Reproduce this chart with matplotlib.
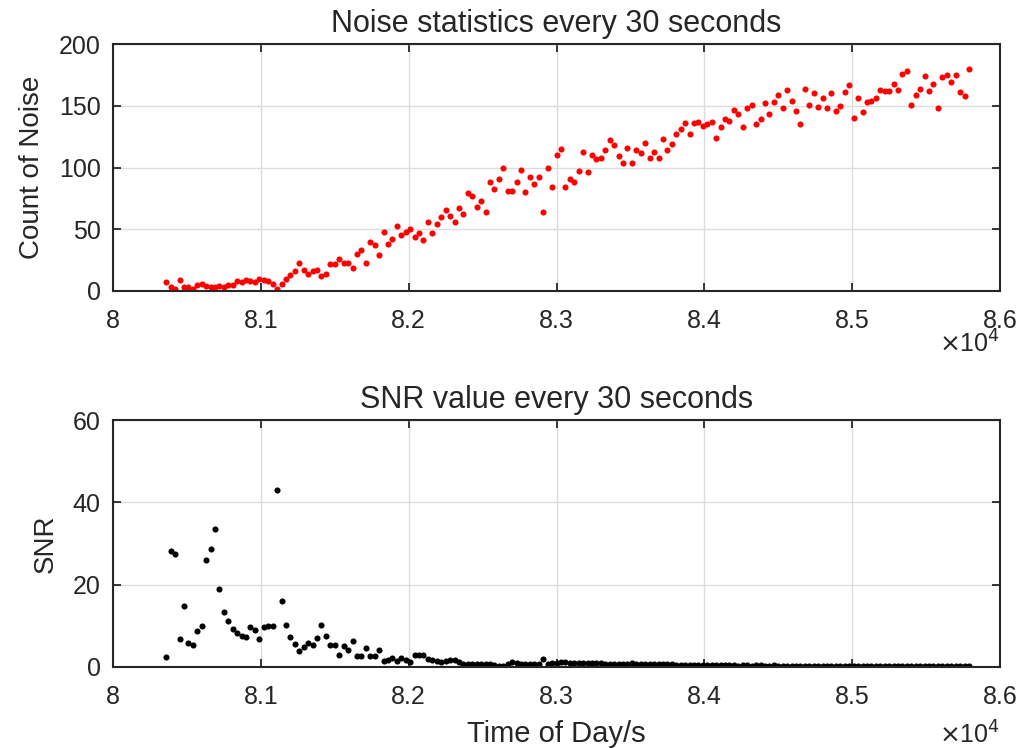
import matplotlib
matplotlib.use("Agg")
import matplotlib.pyplot as plt
from matplotlib.ticker import FuncFormatter
import numpy as np

plt.rcParams['font.family'] = ['Liberation Sans', 'DejaVu Sans']

# sampling: one value every 30 seconds
t_start = 80360
t_step = 30

noise = [7, 3, 2, 9, 3, 3, 2, 5, 6, 4, 3, 3, 4, 3, 5, 5, 8, 7, 9, 8,
         7, 10, 9, 8, 6, 2, 6, 10, 13, 16, 23, 17, 14, 16, 17, 12, 14, 22, 22, 26,
         23, 23, 19, 30, 33, 23, 40, 37, 29, 48, 38, 42, 53, 45, 48,
         50, 44, 47, 41, 56, 47, 54, 60, 66, 61, 56, 67, 62, 79, 77, 68, 73, 64, 88, 83,
         91, 100, 81, 81, 88, 98, 80, 92, 87, 92, 64, 100, 84, 110, 115, 84, 91, 88, 97, 113,
         96, 110, 107, 108, 114, 122, 118, 109, 104, 116, 104, 114, 112, 120, 108, 113, 108, 123, 114, 119,
         127, 131, 136, 127, 136, 137,
         134, 135, 137, 124, 133, 139, 138, 147, 143, 133, 148, 151, 135, 139, 152, 143, 153, 159, 148, 163,
         154, 146, 135, 164, 151, 160, 149, 156, 148, 160, 146, 150, 161, 167, 140, 156, 145, 153, 154, 156,
         163, 162, 162, 168, 163, 176, 178, 151, 159, 164, 174, 162, 168, 148, 173, 175, 169, 175, 161, 158,
         180]

snr = [2.5, 28.3, 27.5, 6.8, 14.9, 5.9, 5.4, 8.7, 10.0, 26.0, 28.6, 33.6, 19.0, 13.3, 11.1, 9.3, 8.2, 7.5, 7.3, 9.7,
       8.9, 6.7, 9.6, 10.0, 9.9, 43.0, 16.0, 10.2, 7.3, 5.6, 3.8, 4.8, 5.9, 5.4, 7.1, 10.2, 7.5, 5.3, 5.4, 3.0,
       5.1, 4.2, 6.3, 2.7, 2.7, 4.6, 2.7, 2.7, 4.2, 1.5, 1.6, 2.3, 1.5, 2.2, 1.8,
       1.2, 2.8, 2.8, 3.0, 1.9, 1.6, 1.4, 1.1, 1.5, 1.6, 1.8, 1.1, 0.65, 0.65, 0.65, 0.8, 0.8, 0.8, 0.65, 0.6,
       0.3, 0.3, 0.8, 1.1, 1.0, 0.65, 0.65, 0.65, 0.65, 0.65, 1.9, 0.8,
       1.0, 1.0, 1.1, 1.1, 1.05, 1.05, 1.0, 1.0, 1.05, 1.0, 1.0, 1.0, 0.8, 0.65, 0.65, 0.65, 0.8, 0.8, 0.9, 0.8,
       0.8, 0.8, 0.8, 0.8, 0.8, 0.8, 0.7, 0.65, 0.5, 0.5, 0.5, 0.5, 0.5, 0.5,
       0.45, 0.45, 0.4, 0.45, 0.4, 0.4, 0.45, 0.4, 0.35, 0.4,
       0.4, 0.35, 0.4, 0.4, 0.35, 0.35, 0.4, 0.35, 0.35, 0.3,
       0.35, 0.35, 0.3, 0.3, 0.35, 0.3, 0.3, 0.3, 0.3, 0.35,
       0.3, 0.3, 0.3, 0.25, 0.3, 0.3, 0.3, 0.25, 0.25, 0.3,
       0.25, 0.25, 0.25, 0.3, 0.25, 0.25, 0.25, 0.2, 0.25, 0.25,
       0.25, 0.2, 0.2, 0.25, 0.2, 0.2, 0.2, 0.2, 0.2, 0.2, 0.2]

t = t_start + t_step * np.arange(len(noise))

x_ticks = [80000, 81000, 82000, 83000, 84000, 85000, 86000]
dark = '#262626'

fig = plt.figure(figsize=(10.2, 7.48), dpi=100)
ax1 = fig.add_axes([0.1108, 0.611, 0.8696, 0.330])
ax2 = fig.add_axes([0.1108, 0.1083, 0.8696, 0.330])


def style(ax):
    ax.set_xlim(80000, 86000)
    ax.set_xticks(x_ticks)
    ax.xaxis.set_major_formatter(FuncFormatter(lambda v, p: '%g' % (v / 1e4)))
    ax.grid(True, color='#dcdcdc', linewidth=1.0)
    ax.set_axisbelow(True)
    ax.tick_params(direction='in', length=6, width=1.3, colors=dark,
                   labelsize=18, top=True, right=True)
    ax.tick_params(axis='x', pad=13)
    ax.tick_params(axis='y', pad=9)
    for s in ax.spines.values():
        s.set_linewidth(1.5)
        s.set_color(dark)


ax1.plot(t, noise, 'o', color='#ff0000', markersize=4.4, markeredgewidth=0)
style(ax1)
ax1.set_ylim(0, 200)
ax1.set_yticks([0, 50, 100, 150, 200])
ax1.set_ylabel('Count of Noise', fontsize=20, color=dark, labelpad=10)
ax1.set_title('Noise statistics every 30 seconds', fontsize=22, color=dark, pad=9)
ax1.text(1.0, -0.215, r'$\times$10$^{4}$', transform=ax1.transAxes, ha='right', va='center',
         fontsize=18, color=dark)

ax2.plot(t, snr, 'o', color='black', markersize=4.4, markeredgewidth=0)
style(ax2)
ax2.set_ylim(0, 60)
ax2.set_yticks([0, 20, 40, 60])
ax2.set_ylabel('SNR', fontsize=20, color=dark, labelpad=10)
ax2.set_xlabel('Time of Day/s', fontsize=21, color=dark, labelpad=8)
ax2.set_title('SNR value every 30 seconds', fontsize=22, color=dark, pad=9)
ax2.text(1.0, -0.275, r'$\times$10$^{4}$', transform=ax2.transAxes, ha='right', va='center',
         fontsize=18, color=dark)

fig.savefig('out.png', dpi=100)
